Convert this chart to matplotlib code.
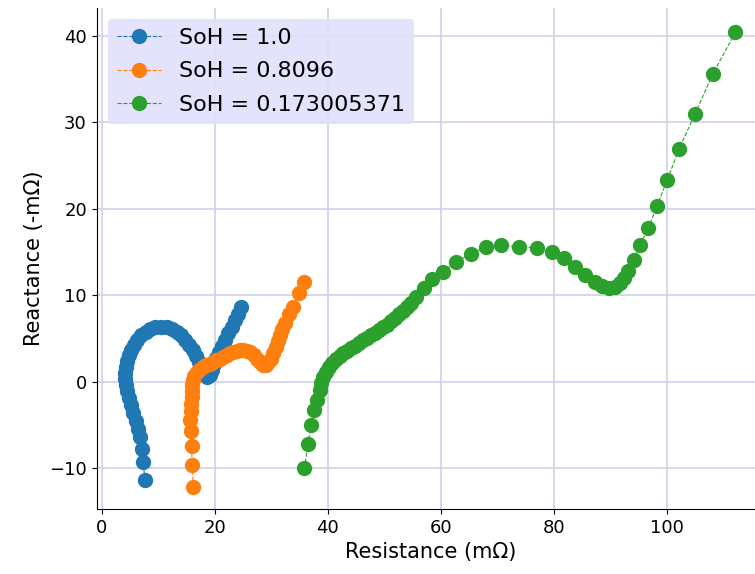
import numpy as np
import matplotlib.pyplot as plt

# Nyquist data (mOhm)
soh_labels = ['SoH = 1.0', 'SoH = 0.8096', 'SoH = 0.173005371']

res_1 = [7.7, 7.3, 7.1, 6.7, 6.4, 6.0, 5.6, 5.2, 4.8, 4.5, 4.3, 4.2, 4.2, 4.3, 4.5,
         4.8, 5.2, 5.7, 6.3, 7.0, 7.8, 8.6, 9.5, 10.5, 11.5, 12.4, 13.3, 14.1, 14.8,
         15.5, 16.1, 16.7, 17.2, 17.7, 18.2, 18.7, 19.1, 19.5, 19.9, 20.3, 20.8,
         21.3, 21.8, 22.4, 23.0, 23.6, 24.2, 24.7]
reac_1 = [-11.3, -9.3, -7.7, -6.4, -5.4, -4.5, -3.6, -2.7, -1.9, -1.1, -0.4, 0.3,
          1.0, 1.7, 2.4, 3.1, 3.7, 4.3, 4.9, 5.4, 5.8, 6.1, 6.3, 6.4, 6.3, 6.1, 5.8,
          5.4, 4.9, 4.3, 3.7, 3.0, 2.3, 1.6, 1.0, 0.6, 0.8, 1.4, 2.1, 2.8, 3.5, 4.2,
          4.9, 5.6, 6.3, 7.1, 7.9, 8.6]

res_2 = [16.2, 16.0, 15.9, 15.8, 15.7, 15.8, 15.8, 15.9, 15.9, 16.0, 16.1, 16.4,
         16.8, 17.3, 17.9, 18.5, 19.1, 19.7, 20.3, 20.9, 21.5, 22.1, 22.7, 23.3,
         23.9, 24.5, 25.1, 25.7, 26.3, 26.9, 27.5, 28.1, 28.6, 29.1, 29.5, 29.9,
         30.4, 30.8, 31.2, 31.6, 32.0, 32.5, 33.1, 33.9, 35.0, 35.9]
reac_2 = [-12.1, -9.6, -7.4, -5.7, -4.4, -3.4, -2.5, -1.7, -1.0, -0.4, 0.2, 0.7,
          1.1, 1.4, 1.7, 1.9, 2.1, 2.3, 2.5, 2.7, 2.9, 3.1, 3.3, 3.5, 3.6, 3.7, 3.7,
          3.6, 3.4, 3.1, 2.7, 2.3, 2.0, 2.0, 2.3, 2.7, 3.3, 4.0, 4.7, 5.4, 6.1, 6.8,
          7.8, 8.7, 10.3, 11.6]

res_3 = [35.9, 36.5, 37.1, 37.6, 38.1, 38.6, 38.9, 39.2, 39.7, 40.2, 40.8, 41.4,
         42.1, 42.8, 43.5, 44.2, 44.9, 45.6, 46.3, 47.0, 47.7, 48.4, 49.1, 49.8,
         50.5, 51.2, 51.9, 52.6, 53.3, 54.0, 54.7, 55.6, 57.0, 58.5, 60.4, 62.7,
         65.4, 68.1, 70.7, 73.9, 77.0, 79.7, 81.9, 83.8, 85.6, 87.3, 88.6, 89.8,
         90.8, 91.7, 92.4, 93.2, 94.2, 95.3, 96.8, 98.3, 100.1, 102.2, 105.0,
         108.2, 112.2]
reac_3 = [-10.0, -7.2, -5.0, -3.3, -2.1, -0.9, -0.1, 0.6, 1.2, 1.7, 2.2, 2.6, 3.0,
          3.3, 3.6, 3.9, 4.2, 4.5, 4.8, 5.1, 5.4, 5.7, 6.0, 6.3, 6.6, 7.0, 7.4, 7.8,
          8.2, 8.6, 9.1, 9.8, 10.8, 11.9, 12.7, 13.9, 14.8, 15.6, 15.8, 15.6, 15.5,
          15.0, 14.3, 13.3, 12.4, 11.6, 11.1, 10.9, 11.0, 11.4, 12.0, 12.8, 14.1,
          15.8, 17.8, 20.3, 23.3, 26.9, 30.9, 35.6, 40.4]

series = [(res_1, reac_1), (res_2, reac_2), (res_3, reac_3)]

fig = plt.figure(figsize=(7.55, 5.74), dpi=100)
# axes run slightly past the right edge of the figure, as in the reference
ax = fig.add_axes([0.128, 0.113, 0.885, 0.873])

for (x, y), lab in zip(series, soh_labels):
    ax.plot(x, y, 'o--', markersize=10, linewidth=0.8, label=lab)

ax.grid(True, color='#d0d0ea', linewidth=1.2)
ax.set_axisbelow(True)
ax.spines['top'].set_visible(False)
ax.spines['right'].set_visible(False)
ax.set_xlim(-0.9, 117.4)
ax.set_ylim(-14.7, 43.2)
ax.tick_params(labelsize=13)
ax.set_xlabel('Resistance (m\u03a9)', fontsize=15)
ax.set_ylabel('Reactance (-m\u03a9)', fontsize=15)

leg = ax.legend(loc='upper left', fontsize=16, facecolor='#e0e0fb',
                framealpha=0.9, edgecolor='none', labelspacing=0.6)

fig.savefig('out.png', dpi=100)
